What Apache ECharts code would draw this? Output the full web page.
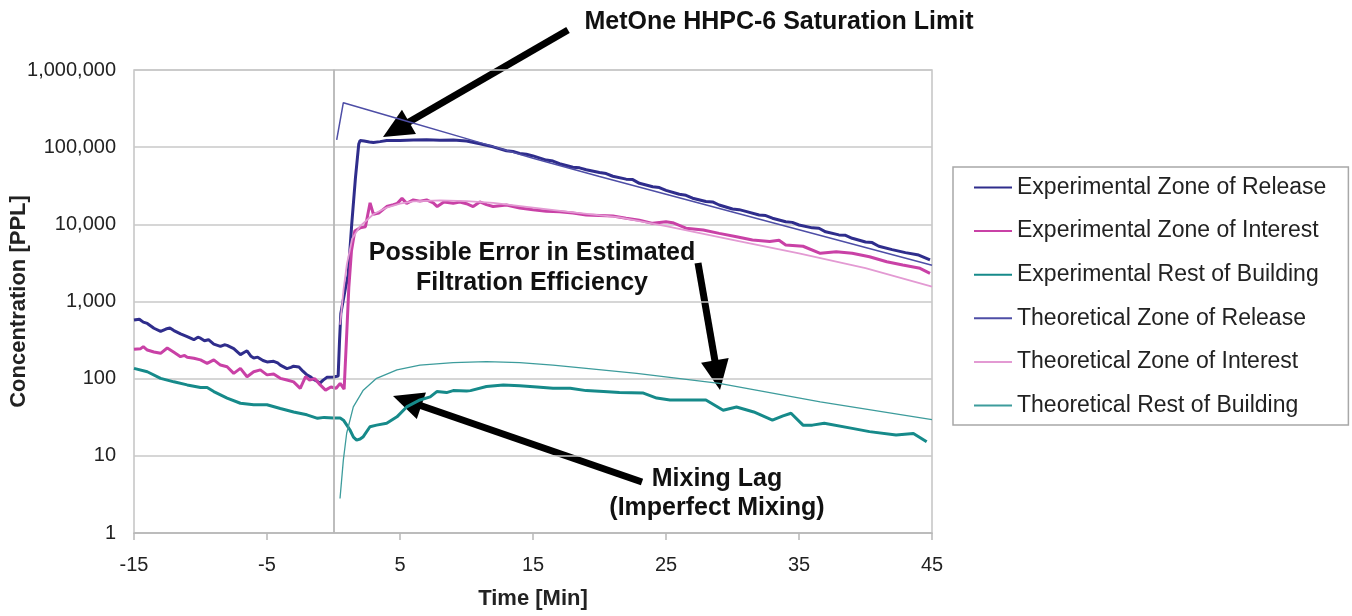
<!DOCTYPE html>
<html>
<head>
<meta charset="utf-8">
<script src="https://cdn.jsdelivr.net/npm/echarts@6/dist/echarts.min.js"></script>
<style>
  html, body { margin: 0; padding: 0; background: #fff; }
  #chart { width: 1352px; height: 616px; }
</style>
</head>
<body>
<div id="chart"></div>
<script>
// [time (min), concentration (PPL)]
var expRelease = [
  [-15, 575], [-14.6, 590], [-14.3, 540], [-14, 520], [-13.5, 450], [-13, 410], [-12.6, 440], [-12.3, 455],
  [-12, 420], [-11.5, 380], [-11, 350], [-10.5, 320], [-10.2, 345], [-10, 335], [-9.7, 310], [-9.4, 320],
  [-9, 280], [-8.5, 262], [-8.2, 275], [-8, 270], [-7.5, 245], [-7, 205], [-6.7, 220], [-6.5, 230],
  [-6.2, 195], [-6, 185], [-5.7, 190], [-5.3, 172], [-5, 165], [-4.5, 168], [-4.2, 160], [-4, 150],
  [-3.5, 135], [-3.2, 140], [-3, 145], [-2.6, 142], [-2.3, 125], [-2, 112], [-1.7, 105], [-1.5, 98],
  [-1.2, 92], [-1, 88], [-0.8, 95], [-0.5, 104], [0, 105], [0.35, 108], [0.45, 300], [0.55, 700],
  [0.9, 1500], [1.1, 2200], [1.37, 10000], [1.65, 40000], [1.9, 110000], [2.0, 122000], [2.3, 120000],
  [2.7, 117000], [3.0, 115000], [3.5, 118000], [4, 122000], [5, 122000], [6, 124000], [7, 125000],
  [8, 123000], [9, 124000], [10, 120000], [11, 111000], [12, 101000], [13, 90000], [13.5, 88000],
  [14, 83000], [14.5, 81000], [15, 77000], [16, 68000], [16.5, 66000], [17, 61000], [18, 55000],
  [18.5, 54000], [19, 51000], [20, 47000], [20.5, 45500], [21, 42000], [22, 38500], [22.5, 38000],
  [23, 34000], [24, 30700], [24.5, 30000], [25, 27500], [26, 24500], [26.5, 23800], [27, 21800],
  [28, 19800], [28.5, 19500], [29, 17800], [30, 15800], [30.5, 15500], [31, 14700], [32, 13200],
  [32.5, 13000], [33, 12000], [34, 10800], [34.5, 10600], [35, 9800], [36, 9000], [36.5, 8900],
  [37, 8000], [38, 7300], [38.5, 7200], [39, 6600], [40, 5900], [40.5, 5800], [41, 5200], [42, 4700],
  [43, 4300], [44, 4000], [44.85, 3450]
];
var expInterest = [
  [-15, 240], [-14.5, 245], [-14.3, 260], [-14, 235], [-13.5, 222], [-13, 213], [-12.5, 250], [-12, 220],
  [-11.5, 193], [-11.2, 200], [-11, 190], [-10.5, 184], [-10, 175], [-9.5, 158], [-9, 175], [-8.5, 150],
  [-8, 143], [-7.5, 117], [-7, 136], [-6.5, 106], [-6, 123], [-5.5, 130], [-5, 112], [-4.5, 115],
  [-4, 101], [-3.5, 96], [-3, 91], [-2.5, 75], [-2.1, 106], [-1.8, 96], [-1.4, 100], [-1, 83],
  [-0.6, 71], [-0.2, 78], [0.2, 75], [0.5, 87], [0.8, 73], [0.95, 72], [1.0, 400], [1.15, 1500],
  [1.35, 4500], [1.6, 8200], [2.0, 9000], [2.4, 9300], [2.75, 19000], [3.0, 13500], [3.4, 14000],
  [4.0, 17000], [4.5, 18000], [4.8, 18700], [5.15, 21700], [5.5, 18700], [6, 20700], [6.5, 20000],
  [7, 20700], [7.5, 19000], [7.8, 17000], [8.3, 19500], [9, 18700], [9.5, 19500], [10, 18500],
  [10.5, 17000], [11, 19500], [11.5, 18000], [12, 17000], [13, 17800], [14, 16300], [15, 15500],
  [16, 14800], [17, 14600], [18, 14000], [19, 13200], [20, 13000], [21, 12800], [22, 12000],
  [23, 11300], [24, 10300], [25, 10800], [25.5, 10500], [26.5, 8900], [27.8, 8440], [29, 7640],
  [30.3, 6920], [31.5, 6270], [32.8, 6000], [33.5, 6200], [34, 5400], [35.3, 5200], [36.6, 4210],
  [37.8, 4400], [39, 4210], [40.3, 3800], [41.6, 3280], [42.8, 2970], [44.1, 2690], [44.85, 2320]
];
var expBuilding = [
  [-15, 136], [-14, 123], [-13, 101], [-12, 91], [-11, 83], [-10, 77], [-9.5, 77], [-9, 68], [-8, 56],
  [-7, 48], [-6, 46], [-5, 46], [-4, 41], [-3, 37], [-2, 34], [-1.2, 30.6], [-0.7, 31.5], [0, 31],
  [0.5, 31], [0.75, 29], [1.0, 25], [1.24, 21.6], [1.5, 17.5], [1.74, 16], [2.0, 16.5], [2.24, 17.7],
  [2.74, 23.8], [3.24, 25], [4.0, 26.4], [4.77, 32], [5.5, 43], [6.5, 53], [7.27, 58], [7.77, 68],
  [8.5, 66], [9, 70], [10, 69], [10.3, 70], [11.5, 79], [12.77, 83], [14, 81], [15.3, 78], [16.5, 75],
  [17.8, 75], [19, 70], [20.3, 68], [21.5, 66], [23.3, 65], [24.3, 56], [25.3, 53], [28, 53],
  [29.3, 39], [30.3, 43], [31.6, 37], [33, 29], [33.8, 33], [34.4, 35.6], [35.3, 25], [36, 25],
  [36.9, 26.4], [39, 22.7], [40.3, 20.6], [42.3, 18.6], [43.6, 19.5], [44.6, 15.2]
];
var theoRelease = [
  [0.24, 124000], [0.74, 377000], [5, 230000], [10, 129000], [15, 72000], [20, 41700], [25, 24500],
  [30, 14450], [35, 8500], [40, 5000], [45, 2950]
];
var theoInterest = [
  [0.5, 500], [0.75, 1400], [1.0, 3000], [1.4, 6500], [2, 9500], [3, 13500], [4, 16500], [5, 18500],
  [6, 19800], [8, 20500], [10, 20000], [12, 19000], [15, 16500], [18, 14300], [21.5, 12300],
  [25, 9500], [30, 6300], [35, 4200], [40, 2700], [45, 1560]
];
var theoBuilding = [
  [0.49, 2.8], [0.74, 8.8], [0.99, 19.6], [1.49, 43], [2.24, 71], [3.24, 101], [4.77, 130], [6.5, 150],
  [9, 161], [11.5, 166], [14, 161], [16.5, 150], [19, 136], [22.8, 117], [29, 87], [36.6, 50], [45, 29.5]
];

var FONT = '"Liberation Sans", Arial, sans-serif';

function arrow(x1, y1, x2, y2) {
  // shaft from tail (x1,y1) to the head, head tip at (x2,y2)
  var dx = x2 - x1, dy = y2 - y1, len = Math.sqrt(dx * dx + dy * dy);
  var ux = dx / len, uy = dy / len, nx = -uy, ny = ux;
  var L = 30, H = 14;
  var bx = x2 - ux * L, by = y2 - uy * L;
  return [
    { type: 'line', shape: { x1: x1, y1: y1, x2: bx + ux * 4, y2: by + uy * 4 },
      style: { stroke: '#000', lineWidth: 7 } },
    { type: 'polygon', shape: { points: [[x2, y2], [bx + nx * H, by + ny * H], [bx - nx * H, by - ny * H]] },
      style: { fill: '#000' } }
  ];
}

function label(text, x, y) {
  return { type: 'text', style: { text: text, x: x, y: y, font: 'bold 25px ' + FONT,
    fill: '#111', align: 'center', verticalAlign: 'middle' } };
}

var chart = echarts.init(document.getElementById('chart'));

function line(name, data, color, width) {
  return { name: name, type: 'line', data: data, showSymbol: false, symbol: 'none',
    lineStyle: { color: color, width: width }, itemStyle: { color: color }, animation: false };
}

var series = [
  line('Experimental Zone of Release', expRelease, '#2f2d8c', 3),
  line('Experimental Zone of Interest', expInterest, '#c941a6', 3),
  line('Experimental Rest of Building', expBuilding, '#168a8a', 3),
  line('Theoretical Zone of Release', theoRelease, '#4e4ea6', 1.5),
  line('Theoretical Zone of Interest', theoInterest, '#e39ad3', 1.8),
  line('Theoretical Rest of Building', theoBuilding, '#3d9c9c', 1.3)
];
series[0].markLine = {
  silent: true, symbol: 'none', label: { show: false }, animation: false,
  lineStyle: { color: '#b8b8b8', width: 1.5, type: 'solid' },
  data: [{ xAxis: 0 }]
};

var graphics = [].concat(
  arrow(568, 30, 383, 137),
  arrow(698, 263, 720, 390),
  arrow(642, 482, 393, 396),
  [
    label('MetOne HHPC-6 Saturation Limit', 779, 22),
    label('Possible Error in Estimated', 532, 253),
    label('Filtration Efficiency', 532, 283),
    label('Mixing Lag', 717, 479),
    label('(Imperfect Mixing)', 717, 508)
  ]
);

chart.setOption({
  animation: false,
  backgroundColor: '#fff',
  grid: { left: 134, right: 420, top: 70, bottom: 83, containLabel: false, outerBoundsMode: 'none',
    show: true, borderColor: '#c4c4c4', borderWidth: 1.5 },
  legend: {
    orient: 'vertical', left: 953, top: 167,
    padding: [9, 22, 8, 20], itemGap: 20.6, itemWidth: 38, itemHeight: 20,
    borderColor: '#a8a8a8', borderWidth: 1.5, backgroundColor: '#fff',
    itemStyle: { color: 'rgba(0,0,0,0)', borderWidth: 0 },
    textStyle: { fontFamily: FONT, fontSize: 23, color: '#222' },
    data: series.map(function (s) { return s.name; })
  },
  xAxis: {
    type: 'value', min: -15, max: 45, interval: 10,
    name: 'Time [Min]', nameLocation: 'middle', nameGap: 55, nameMoveOverlap: false,
    nameTextStyle: { fontFamily: FONT, fontSize: 22, fontWeight: 'bold', color: '#222' },
    axisLine: { onZero: false, lineStyle: { color: '#b8b8b8', width: 1.5 } },
    axisTick: { show: true, inside: false, length: 7, lineStyle: { color: '#b8b8b8', width: 1.5 } },
    axisLabel: { fontFamily: FONT, fontSize: 20, color: '#222', margin: 22 },
    splitLine: { show: false }
  },
  yAxis: {
    type: 'log', logBase: 10, min: 1, max: 1000000,
    name: 'Concentration [PPL]', nameLocation: 'middle', nameGap: 104, nameRotate: 90, nameMoveOverlap: false,
    nameTextStyle: { fontFamily: FONT, fontSize: 22, fontWeight: 'bold', color: '#222' },
    axisLine: { show: true, lineStyle: { color: '#b8b8b8', width: 1.5 } },
    axisTick: { show: false },
    axisLabel: { fontFamily: FONT, fontSize: 20, color: '#222', margin: 18,
      formatter: function (v) { return Math.round(v).toLocaleString('en-US'); } },
    splitLine: { show: true, lineStyle: { color: '#c8c8c8', width: 1.5 } }
  },
  series: series,
  graphic: graphics
});
</script>
</body>
</html>
